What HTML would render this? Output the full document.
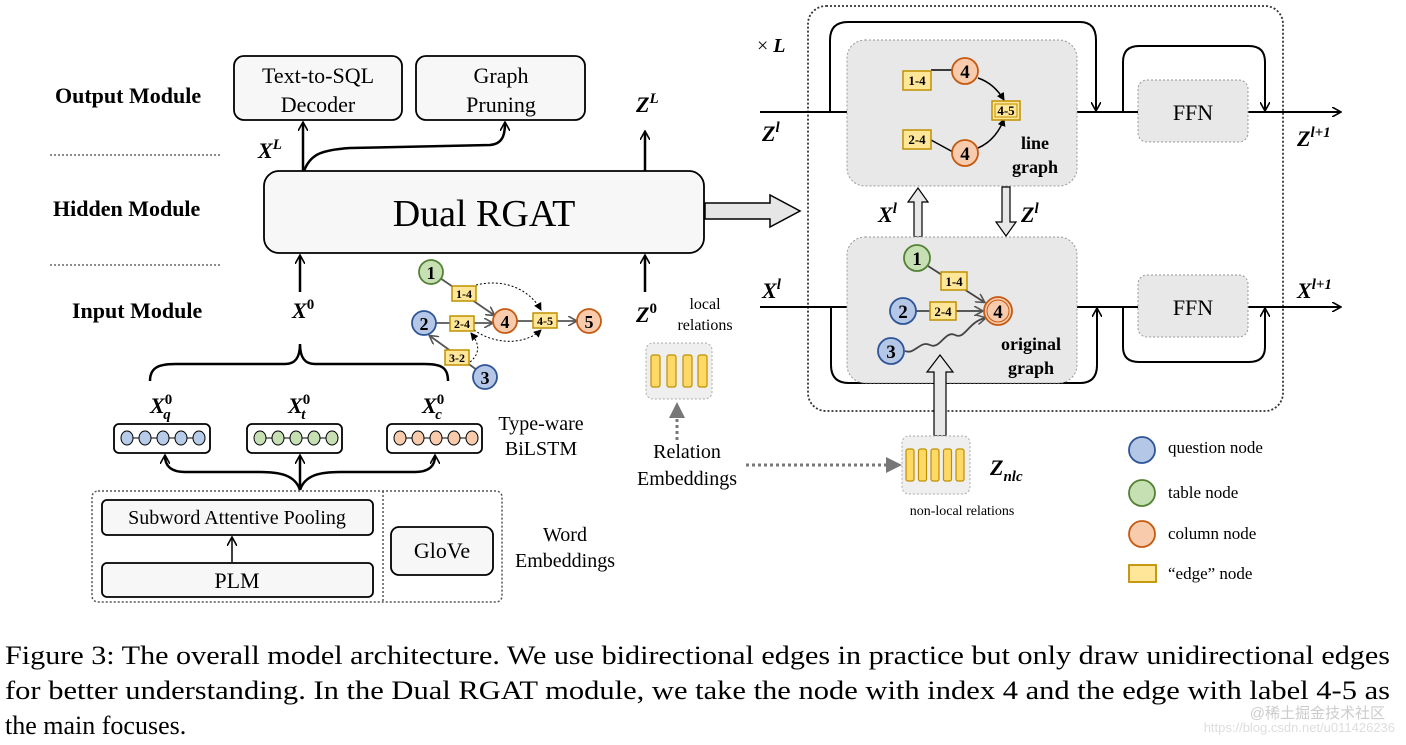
<!DOCTYPE html>
<html><head><meta charset="utf-8"><style>
html,body{margin:0;padding:0;background:#fff;}
svg{display:block;font-family:"Liberation Serif",serif;}
.b{font-weight:bold;}
.m{font-weight:bold;font-style:italic;}
</style></head><body>
<svg width="1406" height="745" viewBox="0 0 1406 745" xmlns="http://www.w3.org/2000/svg">
<defs>
<marker id="ah" markerWidth="10" markerHeight="10" refX="8" refY="5" orient="auto" markerUnits="userSpaceOnUse"><path d="M0,0 L9,5 L0,10" fill="none" stroke="#000" stroke-width="1.6"/></marker>
<marker id="ag" markerWidth="10" markerHeight="10" refX="8" refY="5" orient="auto" markerUnits="userSpaceOnUse"><path d="M0,0 L9,5 L0,10" fill="none" stroke="#555" stroke-width="1.6"/></marker>
<marker id="ad" markerWidth="8" markerHeight="8" refX="7" refY="4" orient="auto" markerUnits="userSpaceOnUse"><path d="M0,0 L8,4 L0,8 Z" fill="#000"/></marker>
<marker id="agt" markerWidth="16" markerHeight="16" refX="14" refY="8" orient="auto" markerUnits="userSpaceOnUse"><path d="M0,0 L16,8 L0,16 Z" fill="#777"/></marker>
</defs>

<text x="55" y="103" class="b" font-size="22">Output Module</text>
<text x="53" y="216" class="b" font-size="22">Hidden Module</text>
<text x="72" y="318" class="b" font-size="22">Input Module</text>
<line x1="50" y1="155" x2="222" y2="155" stroke="#666" stroke-width="1.5" stroke-dasharray="2,2"/>
<line x1="50" y1="265" x2="222" y2="265" stroke="#666" stroke-width="1.5" stroke-dasharray="2,2"/>

<rect x="234" y="56" width="168" height="64" rx="10" fill="#f7f7f7" stroke="#000" stroke-width="1.8"/>
<text x="318" y="83" font-size="22" text-anchor="middle">Text-to-SQL</text>
<text x="318" y="112" font-size="22" text-anchor="middle">Decoder</text>
<rect x="416" y="56" width="169" height="64" rx="10" fill="#f7f7f7" stroke="#000" stroke-width="1.8"/>
<text x="501" y="83" font-size="22" text-anchor="middle">Graph</text>
<text x="501" y="112" font-size="22" text-anchor="middle">Pruning</text>

<rect x="264" y="171" width="440" height="82" rx="15" fill="#f7f7f7" stroke="#000" stroke-width="1.8"/>
<text x="484" y="226" font-size="38" text-anchor="middle">Dual RGAT</text>
<line x1="303" y1="171" x2="303" y2="123" stroke="#000" stroke-width="2.5" marker-end="url(#ah)"/>
<path d="M304,171 C310,155 320,150 350,148 L490,145 C502,144 505,136 505,123" fill="none" stroke="#000" stroke-width="2.5" marker-end="url(#ah)"/>
<text x="258" y="158" class="m" font-size="22">X<tspan font-size="15" dy="-9">L</tspan></text>
<line x1="645" y1="171" x2="645" y2="132" stroke="#000" stroke-width="2.5" marker-end="url(#ah)"/>
<text x="636" y="112" class="m" font-size="22">Z<tspan font-size="15" dy="-9">L</tspan></text>
<path d="M705,203 L770,203 L770,195 L800,211 L770,227 L770,219 L705,219 Z" fill="#e6e6e6" stroke="#000" stroke-width="1.5"/>

<line x1="300" y1="292" x2="300" y2="256" stroke="#000" stroke-width="2.5" marker-end="url(#ah)"/>
<text x="292" y="318" class="m" font-size="22">X<tspan font-size="15" dy="-9" font-style="normal">0</tspan></text>
<line x1="645" y1="292" x2="645" y2="256" stroke="#000" stroke-width="2.5" marker-end="url(#ah)"/>
<text x="636" y="322" class="m" font-size="22">Z<tspan font-size="15" dy="-9" font-style="normal">0</tspan></text>
<text x="705" y="309" font-size="16" text-anchor="middle">local</text>
<text x="705" y="330" font-size="16" text-anchor="middle">relations</text>

<path d="M150,381 C150,368 158,364 175,364 L285,364 C295,364 300,358 300,344 C300,358 305,364 315,364 L425,364 C442,364 448,368 448,381" fill="none" stroke="#000" stroke-width="2.5"/>
<text x="150" y="413" class="m" font-size="22">X<tspan font-size="15" dy="-9" font-style="normal" font-weight="bold">0</tspan><tspan font-size="15" dx="-9" dy="15">q</tspan></text>
<text x="288" y="413" class="m" font-size="22">X<tspan font-size="15" dy="-9" font-style="normal">0</tspan><tspan font-size="15" dx="-9" dy="15">t</tspan></text>
<text x="422" y="413" class="m" font-size="22">X<tspan font-size="15" dy="-9" font-style="normal">0</tspan><tspan font-size="15" dx="-9" dy="15">c</tspan></text>

<g stroke="#000" stroke-width="1.8" fill="#fff">
<rect x="114" y="424" width="96" height="29" rx="5"/>
<rect x="247" y="424" width="95" height="29" rx="5"/>
<rect x="387" y="424" width="95" height="29" rx="5"/>
</g>
<g stroke="#000" stroke-width="1">
<line x1="126" y1="438" x2="198" y2="438"/><line x1="259" y1="438" x2="330" y2="438"/><line x1="399" y1="438" x2="470" y2="438"/>
<g fill="#b7cce8"><ellipse cx="127" cy="438" rx="6" ry="7"/><ellipse cx="145" cy="438" rx="6" ry="7"/><ellipse cx="163" cy="438" rx="6" ry="7"/><ellipse cx="181" cy="438" rx="6" ry="7"/><ellipse cx="199" cy="438" rx="6" ry="7"/></g>
<g fill="#c6e0b4"><ellipse cx="260" cy="438" rx="6" ry="7"/><ellipse cx="278" cy="438" rx="6" ry="7"/><ellipse cx="296" cy="438" rx="6" ry="7"/><ellipse cx="314" cy="438" rx="6" ry="7"/><ellipse cx="332" cy="438" rx="6" ry="7"/></g>
<g fill="#f8cbad"><ellipse cx="400" cy="438" rx="6" ry="7"/><ellipse cx="418" cy="438" rx="6" ry="7"/><ellipse cx="436" cy="438" rx="6" ry="7"/><ellipse cx="454" cy="438" rx="6" ry="7"/><ellipse cx="472" cy="438" rx="6" ry="7"/></g>
</g>
<text x="541" y="430" font-size="20" text-anchor="middle">Type-ware</text>
<text x="541" y="455" font-size="20" text-anchor="middle">BiLSTM</text>

<line x1="300" y1="490" x2="300" y2="456" stroke="#000" stroke-width="2.5" marker-end="url(#ah)"/>
<path d="M300,490 C295,475 280,472 260,472 L185,472 C170,472 165,465 165,456" fill="none" stroke="#000" stroke-width="2.5" marker-end="url(#ah)"/>
<path d="M300,490 C305,475 320,472 340,472 L415,472 C430,472 435,465 435,456" fill="none" stroke="#000" stroke-width="2.5" marker-end="url(#ah)"/>

<rect x="92" y="491" width="410" height="111" rx="6" fill="none" stroke="#555" stroke-width="1.5" stroke-dasharray="2,2"/>
<line x1="383" y1="491" x2="383" y2="602" stroke="#555" stroke-width="1.5" stroke-dasharray="2,2"/>
<rect x="102" y="500" width="271" height="35" rx="5" fill="#f7f7f7" stroke="#000" stroke-width="1.8"/>
<text x="237" y="524" font-size="20" text-anchor="middle">Subword Attentive Pooling</text>
<rect x="102" y="563" width="271" height="34" rx="5" fill="#f7f7f7" stroke="#000" stroke-width="1.8"/>
<text x="237" y="588" font-size="22" text-anchor="middle">PLM</text>
<line x1="232" y1="562" x2="232" y2="538" stroke="#000" stroke-width="1.5" marker-end="url(#ah)"/>
<rect x="391" y="527" width="102" height="48" rx="8" fill="#f7f7f7" stroke="#000" stroke-width="1.8"/>
<text x="442" y="558" font-size="22" text-anchor="middle">GloVe</text>
<text x="565" y="541" font-size="20" text-anchor="middle">Word</text>
<text x="565" y="567" font-size="20" text-anchor="middle">Embeddings</text>

<g stroke="#555" stroke-width="1.8" fill="none">
<line x1="440" y1="278" x2="494" y2="315" marker-end="url(#ag)"/>
<line x1="436" y1="323" x2="492" y2="323" marker-end="url(#ag)"/>
<line x1="517" y1="321" x2="576" y2="321" marker-end="url(#ag)"/>
<line x1="477" y1="370" x2="430" y2="336" marker-end="url(#ag)"/>
</g>
<g stroke="#000" stroke-width="1" fill="none" stroke-dasharray="2,2">
<path d="M476,285 C505,278 530,290 541,310" marker-end="url(#ad)"/>
<path d="M474,330 C495,345 525,345 541,330" marker-end="url(#ad)"/>
<path d="M470,362 C482,352 478,342 471,333" marker-end="url(#ad)"/>
</g>
<g font-weight="bold" text-anchor="middle">
<circle cx="431" cy="272" r="12" fill="#c6e0b4" stroke="#548235" stroke-width="1.8"/><text x="431" y="279" font-size="18">1</text>
<circle cx="424" cy="323" r="12" fill="#b4c7e7" stroke="#2f5597" stroke-width="1.8"/><text x="424" y="330" font-size="18">2</text>
<circle cx="485" cy="377" r="12" fill="#b4c7e7" stroke="#2f5597" stroke-width="1.8"/><text x="485" y="384" font-size="18">3</text>
<circle cx="505" cy="321" r="12" fill="#f8cbad" stroke="#c55a11" stroke-width="1.8"/><text x="505" y="328" font-size="18">4</text>
<circle cx="589" cy="321" r="12" fill="#f8cbad" stroke="#c55a11" stroke-width="1.8"/><text x="589" y="328" font-size="18">5</text>
<g fill="#ffe699" stroke="#bf9000" stroke-width="1.5">
<rect x="452" y="286" width="24" height="15"/><rect x="450" y="316" width="24" height="15"/><rect x="533" y="313" width="24" height="15"/><rect x="445" y="350" width="24" height="15"/>
</g>
<text x="464" y="298" font-size="12">1-4</text><text x="462" y="328" font-size="12">2-4</text><text x="545" y="325" font-size="12">4-5</text><text x="457" y="362" font-size="12">3-2</text>
</g>

<rect x="646" y="343" width="66" height="56" rx="7" fill="#efefef" stroke="#aaa" stroke-width="1" stroke-dasharray="2,2"/>
<g fill="#ffd966" stroke="#bf9000" stroke-width="1.2">
<rect x="651" y="355" width="9" height="32" rx="2"/><rect x="667" y="355" width="9" height="32" rx="2"/><rect x="683" y="355" width="9" height="32" rx="2"/><rect x="698" y="355" width="9" height="32" rx="2"/>
</g>
<line x1="677" y1="440" x2="677" y2="404" stroke="#777" stroke-width="3" stroke-dasharray="3,3" marker-end="url(#agt)"/>
<text x="687" y="458" font-size="20" text-anchor="middle">Relation</text>
<text x="687" y="485" font-size="20" text-anchor="middle">Embeddings</text>
<line x1="746" y1="465" x2="900" y2="465" stroke="#777" stroke-width="3" stroke-dasharray="3,3" marker-end="url(#agt)"/>

<rect x="808" y="6" width="475" height="405" rx="18" fill="none" stroke="#333" stroke-width="1.8" stroke-dasharray="2,2"/>
<text x="757" y="52" font-size="20">× <tspan class="m">L</tspan></text>

<g fill="none" stroke="#000" stroke-width="2">
<path d="M830,112 L830,40 Q830,22 848,22 L1080,22 Q1096,22 1096,40 L1096,110" marker-end="url(#ah)"/>
<path d="M831,307 L831,365 Q831,383 849,383 L1080,383 Q1097,383 1097,365 L1097,309" marker-end="url(#ah)"/>
<path d="M1123,112 L1123,62 Q1123,46 1139,46 L1249,46 Q1265,46 1265,62 L1265,110" marker-end="url(#ah)"/>
<path d="M1123,307 L1123,347 Q1123,362 1139,362 L1249,362 Q1265,362 1265,347 L1265,309" marker-end="url(#ah)"/>
<line x1="760" y1="112" x2="1340" y2="112" marker-end="url(#ah)"/>
<line x1="760" y1="307" x2="1340" y2="307" marker-end="url(#ah)"/>
</g>
<text x="762" y="141" class="m" font-size="22">Z<tspan font-size="15" dy="-9">l</tspan></text>
<text x="762" y="298" class="m" font-size="22">X<tspan font-size="15" dy="-9">l</tspan></text>
<text x="1297" y="146" class="m" font-size="22">Z<tspan font-size="15" dy="-9">l+1</tspan></text>
<text x="1297" y="298" class="m" font-size="22">X<tspan font-size="15" dy="-9">l+1</tspan></text>

<rect x="1138" y="80" width="110" height="62" rx="9" fill="#e8e8e8" stroke="#999" stroke-width="1" stroke-dasharray="2,2"/>
<text x="1193" y="120" font-size="22" text-anchor="middle">FFN</text>
<rect x="1138" y="275" width="110" height="62" rx="9" fill="#e8e8e8" stroke="#999" stroke-width="1" stroke-dasharray="2,2"/>
<text x="1193" y="315" font-size="22" text-anchor="middle">FFN</text>

<rect x="847" y="40" width="230" height="146" rx="18" fill="#e8e8e8" stroke="#999" stroke-width="1" stroke-dasharray="2,2"/>
<g stroke="#000" stroke-width="1.5" fill="none">
<line x1="931" y1="70" x2="953" y2="70"/>
<line x1="931" y1="140" x2="953" y2="152"/>
<path d="M978,78 C990,82 998,90 1004,100" marker-end="url(#ad)"/>
<path d="M978,148 C992,142 1000,130 1004,119" marker-end="url(#ad)"/>
</g>
<g font-weight="bold" text-anchor="middle">
<circle cx="965" cy="71" r="13" fill="#f8cbad" stroke="#c55a11" stroke-width="1.8"/><text x="965" y="78" font-size="19">4</text>
<circle cx="965" cy="153" r="13" fill="#f8cbad" stroke="#c55a11" stroke-width="1.8"/><text x="965" y="160" font-size="19">4</text>
<g fill="#ffe699" stroke="#bf9000" stroke-width="1.5">
<rect x="903" y="71" width="28" height="19"/><rect x="903" y="130" width="28" height="19"/><rect x="992" y="101" width="28" height="19"/>
</g>
<rect x="995" y="104" width="22" height="13" fill="none" stroke="#bf9000" stroke-width="1"/>
<text x="917" y="85" font-size="13">1-4</text><text x="917" y="144" font-size="13">2-4</text><text x="1006" y="115" font-size="13">4-5</text>
<text x="1035" y="149" font-size="18">line</text><text x="1035" y="173" font-size="18">graph</text>
</g>

<path d="M914,237 L914,202 L908,202 L918,188 L928,202 L922,202 L922,237 Z" fill="#e8e8e8" stroke="#000" stroke-width="1.2"/>
<path d="M1002,187 L1002,222 L996,222 L1006,236 L1016,222 L1010,222 L1010,187 Z" fill="#e8e8e8" stroke="#000" stroke-width="1.2"/>
<text x="878" y="222" class="m" font-size="22">X<tspan font-size="15" dy="-9">l</tspan></text>
<text x="1021" y="222" class="m" font-size="22">Z<tspan font-size="15" dy="-9">l</tspan></text>

<rect x="847" y="237" width="230" height="146" rx="18" fill="#e8e8e8" stroke="#999" stroke-width="1" stroke-dasharray="2,2"/>
<g stroke="#444" stroke-width="1.8" fill="none">
<line x1="928" y1="266" x2="984" y2="302" marker-end="url(#ag)"/>
<line x1="914" y1="311" x2="982" y2="311" marker-end="url(#ag)"/>
<path d="M905,351 C915,355 920,340 930,345 C940,350 945,330 955,335 C965,340 968,322 985,318" marker-end="url(#ag)"/>
</g>
<path d="M934,436 L934,372 L927,372 L940,355 L953,372 L946,372 L946,436 Z" fill="#e8e8e8" stroke="#000" stroke-width="1.2"/>
<g font-weight="bold" text-anchor="middle">
<circle cx="917" cy="258" r="13" fill="#c6e0b4" stroke="#548235" stroke-width="1.8"/><text x="917" y="265" font-size="19">1</text>
<circle cx="903" cy="311" r="13" fill="#b4c7e7" stroke="#2f5597" stroke-width="1.8"/><text x="903" y="318" font-size="19">2</text>
<circle cx="891" cy="351" r="13" fill="#b4c7e7" stroke="#2f5597" stroke-width="1.8"/><text x="891" y="358" font-size="19">3</text>
<circle cx="998" cy="311" r="14" fill="#f8cbad" stroke="#c55a11" stroke-width="1.8"/><circle cx="998" cy="311" r="11" fill="none" stroke="#c55a11" stroke-width="1"/><text x="998" y="318" font-size="19">4</text>
<g fill="#ffe699" stroke="#bf9000" stroke-width="1.5">
<rect x="941" y="272" width="26" height="18"/><rect x="930" y="302" width="26" height="18"/>
</g>
<text x="954" y="286" font-size="13">1-4</text><text x="943" y="316" font-size="13">2-4</text>
<text x="1031" y="350" font-size="18">original</text><text x="1031" y="374" font-size="18">graph</text>
</g>

<rect x="902" y="436" width="68" height="58" rx="7" fill="#efefef" stroke="#aaa" stroke-width="1" stroke-dasharray="2,2"/>
<g fill="#ffd966" stroke="#bf9000" stroke-width="1.2">
<rect x="906" y="449" width="8" height="32" rx="2"/><rect x="918.5" y="449" width="8" height="32" rx="2"/><rect x="931" y="449" width="8" height="32" rx="2"/><rect x="943.5" y="449" width="8" height="32" rx="2"/><rect x="956" y="449" width="8" height="32" rx="2"/>
</g>
<text x="990" y="475" class="m" font-size="22">Z<tspan font-size="15" dy="6">nlc</tspan></text>
<text x="962" y="515" font-size="14" text-anchor="middle">non-local relations</text>

<circle cx="1142" cy="450" r="13" fill="#b4c7e7" stroke="#2f5597" stroke-width="1.8"/>
<circle cx="1142" cy="493" r="13" fill="#c6e0b4" stroke="#548235" stroke-width="1.8"/>
<circle cx="1142" cy="534" r="13" fill="#f8cbad" stroke="#c55a11" stroke-width="1.8"/>
<rect x="1129" y="565" width="27" height="17" fill="#ffe699" stroke="#bf9000" stroke-width="1.8"/>
<text x="1168" y="453" font-size="17">question node</text>
<text x="1168" y="498" font-size="17">table node</text>
<text x="1168" y="539" font-size="17">column node</text>
<text x="1168" y="579" font-size="17">“edge” node</text>

<text x="5" y="664" font-size="26" textLength="1385" lengthAdjust="spacingAndGlyphs">Figure 3: The overall model architecture. We use bidirectional edges in practice but only draw unidirectional edges</text>
<text x="5" y="699" font-size="26" textLength="1385" lengthAdjust="spacingAndGlyphs">for better understanding. In the Dual RGAT module, we take the node with index 4 and the edge with label 4-5 as</text>
<text x="5" y="734" font-size="26">the main focuses.</text>
<text x="1385" y="718" font-size="15" fill="#ccc" text-anchor="end" font-family="'Liberation Sans','Noto Sans CJK SC',sans-serif">@稀土掘金技术社区</text>
<text x="1395" y="732" font-size="13" fill="#ddd" text-anchor="end" font-family="'Liberation Sans',sans-serif">https://blog.csdn.net/u011426236</text>
</svg>
</body></html>
